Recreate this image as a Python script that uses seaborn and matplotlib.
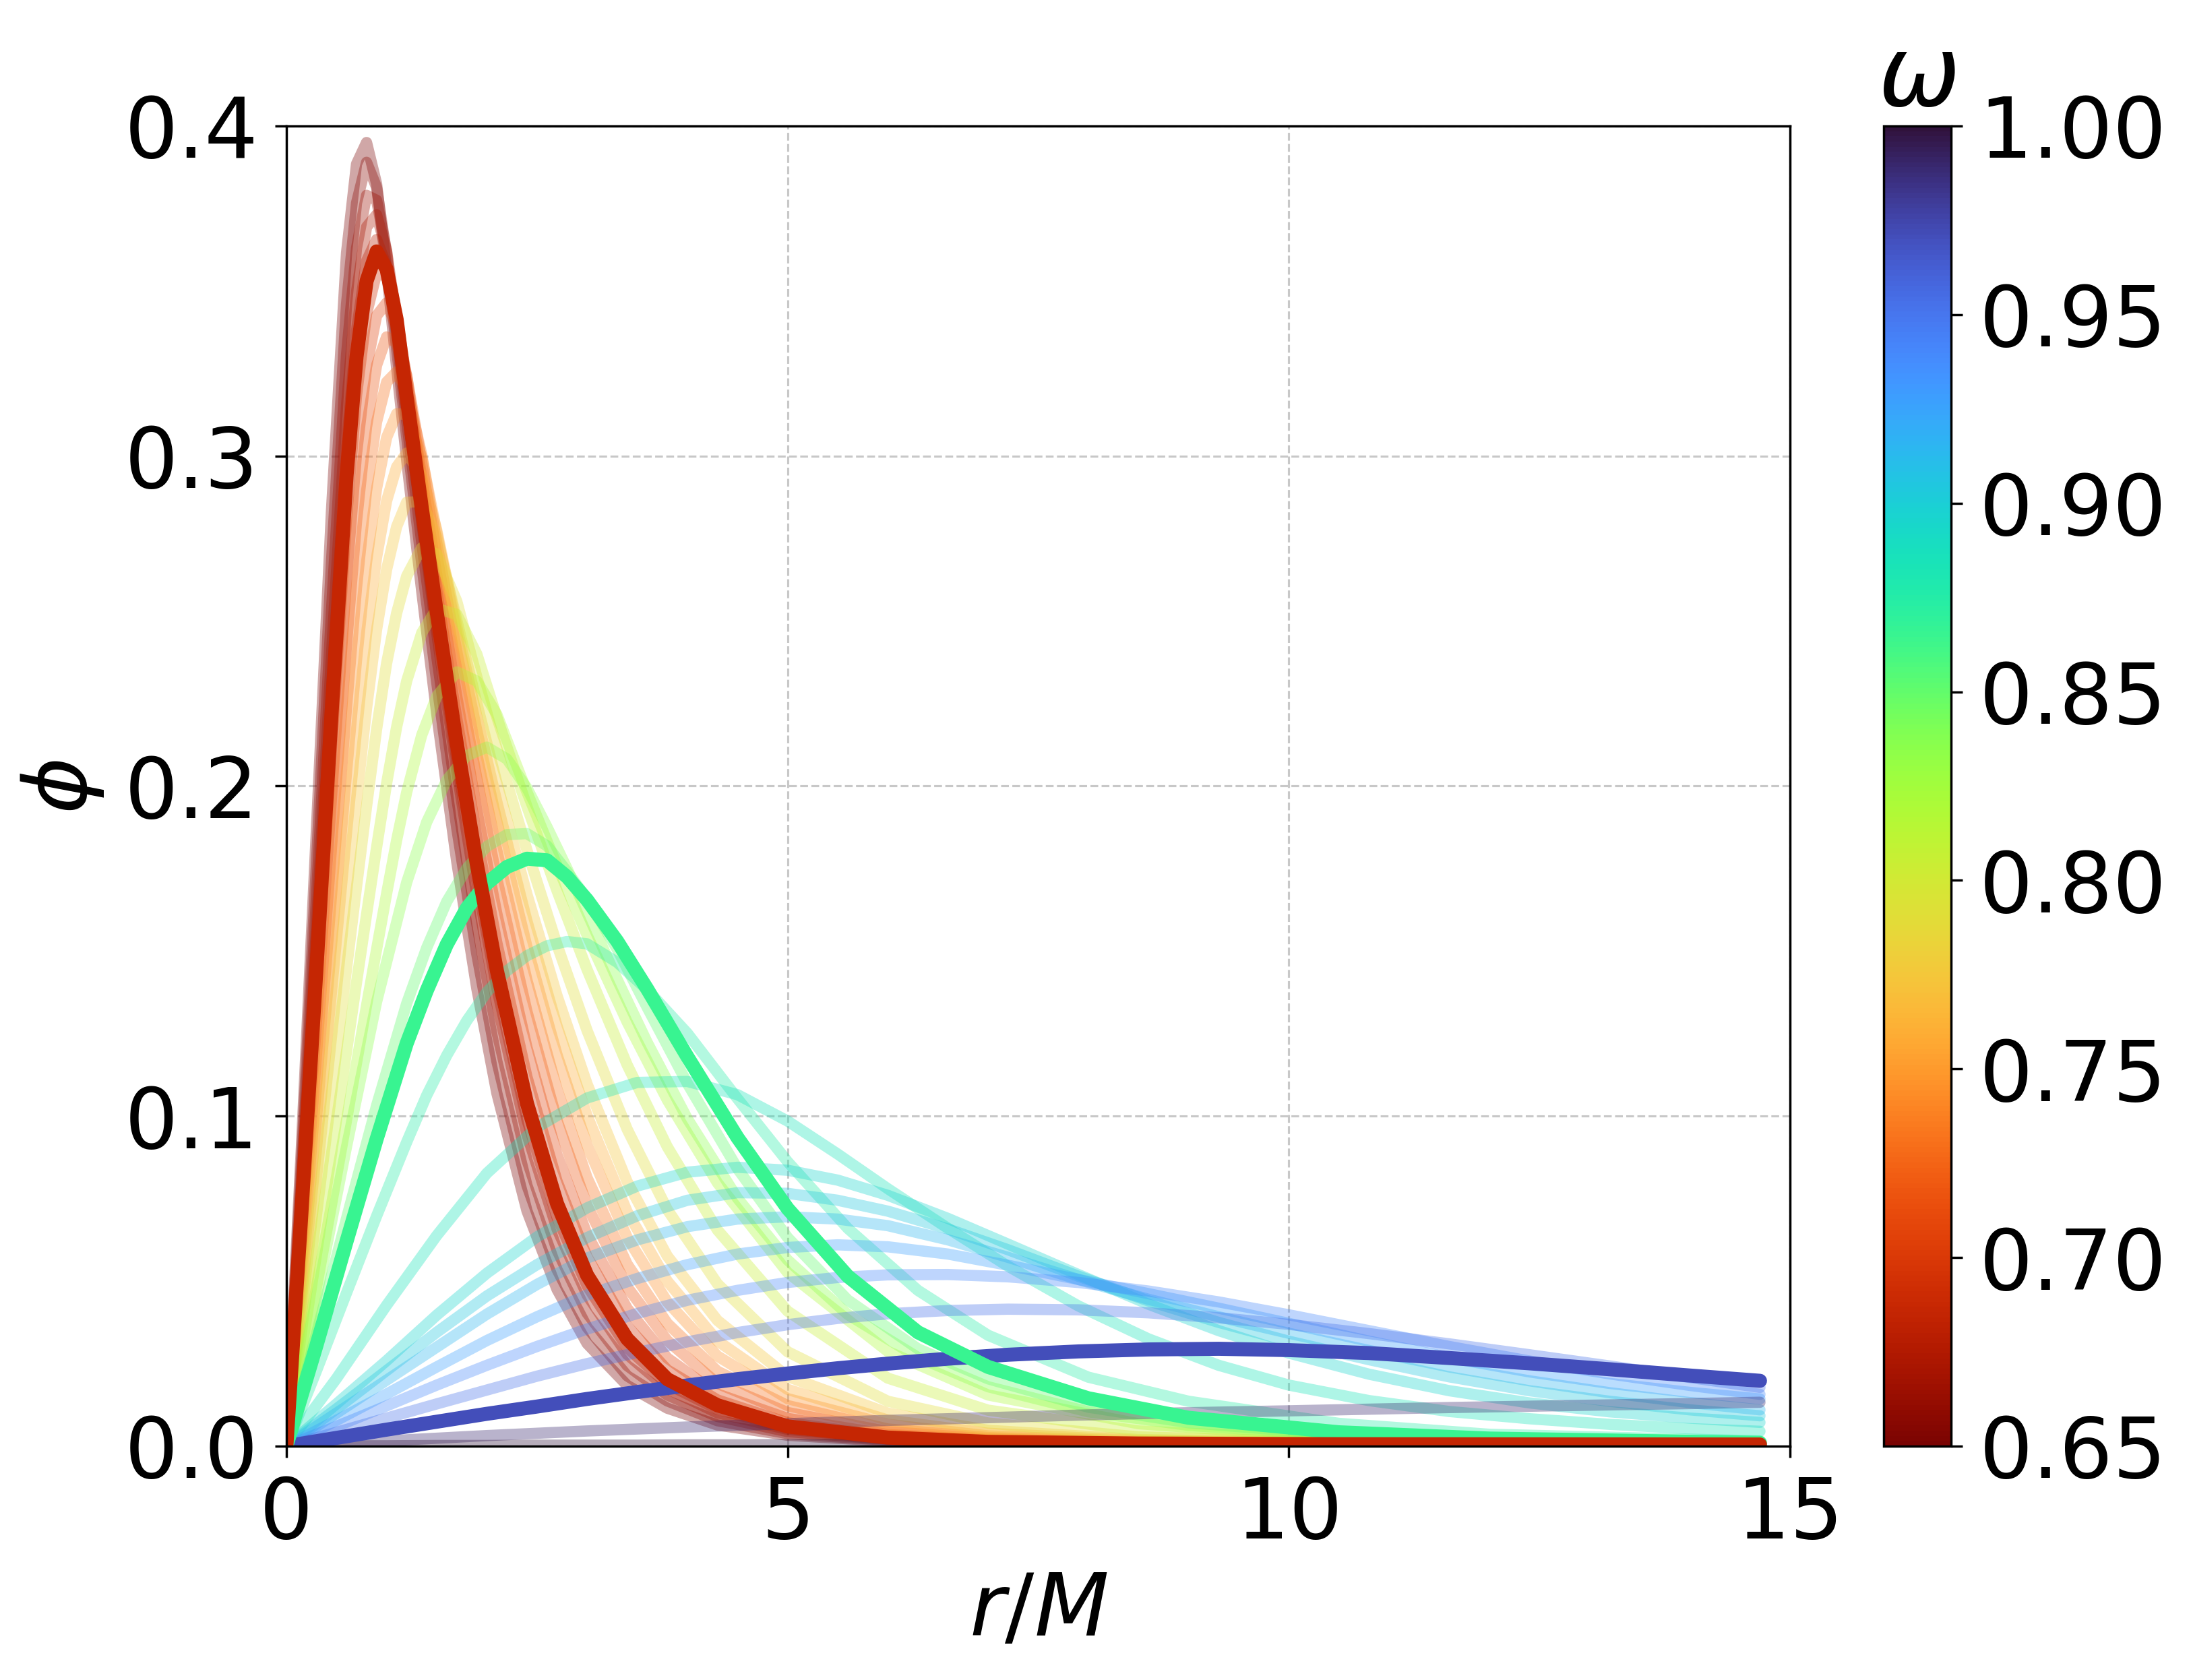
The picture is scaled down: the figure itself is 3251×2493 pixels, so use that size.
import numpy as np
import pandas as pd
import seaborn as sns
import matplotlib.pyplot as plt
from matplotlib import cm, colors

# radial grids (r/M) for the three groups of profiles
r_a = [0, 0.15, 0.3, 0.45, 0.6, 0.7, 0.8, 0.9, 1.0, 1.1, 1.2, 1.35, 1.5, 1.7, 1.9, 2.1, 2.4, 2.7, 3.0, 3.4,
       3.8, 4.3, 5.0, 6.0, 7.0, 8.5, 10.5, 14.7]
r_b = [0, 0.3, 0.6, 0.9, 1.2, 1.4, 1.6, 1.8, 2.0, 2.2, 2.4, 2.6, 2.8, 3.0, 3.3, 3.6, 4.0, 4.5, 5.0, 5.6,
       6.3, 7.0, 8.0, 9.0, 10.5, 12.0, 14.7]
r_c = [0, 0.5, 1.0, 1.5, 2.0, 2.5, 3.0, 3.5, 4.0, 4.5, 5.0, 5.5, 6.0, 6.6, 7.2, 7.9, 8.6, 9.3, 10.0, 10.8,
       11.6, 12.4, 13.2, 14.0, 14.7]

# low-frequency branch (dark red -> yellow)
omega_a = [0.650, 0.658, 0.665, 0.672, 0.679, 0.693, 0.705, 0.718, 0.731, 0.745, 0.760, 0.775, 0.790, 0.805, 0.820]
phi_a = [
    [0, 0.0907, 0.187, 0.2835, 0.3615, 0.3885, 0.395, 0.3825, 0.3564, 0.3267, 0.2988, 0.2591, 0.2219, 0.177, 0.1386, 0.1069, 0.0713, 0.0475, 0.0311, 0.0184, 0.0115, 0.0064, 0.0033, 0.0015, 0.001, 0.0007, 0.0006, 0.0005],
    [0, 0.0858, 0.1763, 0.2678, 0.346, 0.3767, 0.389, 0.3814, 0.361, 0.3325, 0.3058, 0.2674, 0.2314, 0.1872, 0.149, 0.1166, 0.079, 0.0535, 0.036, 0.0213, 0.0137, 0.0077, 0.0038, 0.0018, 0.001, 0.0007, 0.0006, 0.0005],
    [0, 0.0808, 0.1661, 0.2529, 0.3306, 0.363, 0.379, 0.3775, 0.3621, 0.3365, 0.3107, 0.2739, 0.2393, 0.1962, 0.1582, 0.1255, 0.0867, 0.0594, 0.0403, 0.0244, 0.0155, 0.009, 0.0044, 0.0021, 0.0011, 0.0008, 0.0006, 0.0005],
    [0, 0.0764, 0.157, 0.2396, 0.3152, 0.3498, 0.3694, 0.3731, 0.3621, 0.3412, 0.3154, 0.28, 0.2464, 0.2045, 0.167, 0.1342, 0.0945, 0.0658, 0.0458, 0.0278, 0.0174, 0.0101, 0.0051, 0.0023, 0.0012, 0.0008, 0.0006, 0.0005],
    [0, 0.0731, 0.15, 0.2291, 0.3026, 0.338, 0.3591, 0.3656, 0.3575, 0.3396, 0.3152, 0.2809, 0.2485, 0.2079, 0.171, 0.1387, 0.0989, 0.0694, 0.0486, 0.0298, 0.0188, 0.0112, 0.0055, 0.0025, 0.0013, 0.0008, 0.0006, 0.0005],
    [0, 0.0673, 0.138, 0.2112, 0.2811, 0.3183, 0.3431, 0.3554, 0.3544, 0.3427, 0.3232, 0.29, 0.2592, 0.2205, 0.1846, 0.1525, 0.1119, 0.0803, 0.0573, 0.0363, 0.0231, 0.014, 0.0071, 0.003, 0.0016, 0.0009, 0.0006, 0.0005],
    [0, 0.0627, 0.1284, 0.1966, 0.2628, 0.3007, 0.327, 0.3425, 0.3464, 0.3392, 0.3244, 0.2934, 0.2641, 0.2272, 0.1927, 0.1613, 0.1208, 0.0883, 0.0641, 0.0417, 0.0267, 0.0158, 0.0084, 0.0035, 0.0019, 0.0009, 0.0007, 0.0005],
    [0, 0.0579, 0.1184, 0.1813, 0.2428, 0.2802, 0.3088, 0.3275, 0.3361, 0.3343, 0.3244, 0.298, 0.2702, 0.2352, 0.2024, 0.1719, 0.1317, 0.0987, 0.0729, 0.0482, 0.032, 0.019, 0.0102, 0.0044, 0.0022, 0.001, 0.0007, 0.0005],
    [0, 0.0533, 0.109, 0.1667, 0.2238, 0.2601, 0.2894, 0.3103, 0.3224, 0.3255, 0.32, 0.3005, 0.2737, 0.2408, 0.2097, 0.1804, 0.1412, 0.1081, 0.0813, 0.0551, 0.0372, 0.0227, 0.0123, 0.0052, 0.0026, 0.0011, 0.0007, 0.0005],
    [0, 0.0486, 0.0992, 0.1516, 0.2041, 0.2382, 0.2678, 0.2902, 0.3056, 0.3128, 0.3126, 0.2998, 0.2769, 0.2461, 0.2168, 0.1893, 0.1513, 0.1186, 0.0912, 0.0632, 0.0437, 0.0273, 0.0144, 0.0066, 0.0031, 0.0014, 0.0008, 0.0005],
    [0, 0.0442, 0.09, 0.1376, 0.1858, 0.2169, 0.2461, 0.2693, 0.2864, 0.2967, 0.3009, 0.2942, 0.2776, 0.2483, 0.2211, 0.1952, 0.1591, 0.1273, 0.1001, 0.071, 0.05, 0.0319, 0.0172, 0.0079, 0.0039, 0.0017, 0.0008, 0.0005],
    [0, 0.0399, 0.0811, 0.124, 0.1676, 0.1958, 0.2235, 0.2474, 0.2656, 0.2786, 0.286, 0.2862, 0.2755, 0.2503, 0.2251, 0.201, 0.1672, 0.1365, 0.1097, 0.0801, 0.0576, 0.0381, 0.0211, 0.01, 0.0048, 0.002, 0.0009, 0.0005],
    [0, 0.0344, 0.0699, 0.1067, 0.1446, 0.1695, 0.1938, 0.2172, 0.2372, 0.2524, 0.2636, 0.2722, 0.2703, 0.256, 0.2331, 0.2114, 0.1806, 0.1519, 0.1259, 0.096, 0.0717, 0.0492, 0.0286, 0.0136, 0.007, 0.0028, 0.0012, 0.0005],
    [0, 0.0286, 0.058, 0.0884, 0.1195, 0.1405, 0.1611, 0.1814, 0.2008, 0.2179, 0.2318, 0.2464, 0.2538, 0.252, 0.24, 0.2208, 0.1938, 0.1683, 0.1444, 0.1155, 0.0907, 0.0655, 0.0409, 0.0206, 0.0109, 0.0046, 0.0018, 0.0006],
    [0, 0.0237, 0.048, 0.0731, 0.0987, 0.1161, 0.1335, 0.1505, 0.1674, 0.1836, 0.1981, 0.2154, 0.2272, 0.2346, 0.2318, 0.2217, 0.1982, 0.1759, 0.1548, 0.1285, 0.1049, 0.0798, 0.0526, 0.0287, 0.0155, 0.0068, 0.0025, 0.0007],
]

# middle branch (light green -> mint)
omega_b = [0.835, 0.850, 0.875]
phi_b = [
    [0, 0.045, 0.0907, 0.1346, 0.1708, 0.1891, 0.2018, 0.2092, 0.2118, 0.2082, 0.1994, 0.1876, 0.175, 0.1616, 0.1414, 0.1223, 0.0992, 0.0751, 0.0564, 0.0399, 0.0269, 0.018, 0.0104, 0.0063, 0.0032, 0.0017, 0.0007],
    [0, 0.034, 0.069, 0.1032, 0.1341, 0.151, 0.165, 0.1751, 0.1817, 0.1853, 0.1856, 0.1819, 0.1741, 0.1659, 0.1506, 0.1329, 0.1099, 0.0841, 0.0632, 0.0443, 0.0295, 0.0204, 0.0118, 0.0071, 0.0035, 0.002, 0.0008],
    [0, 0.0228, 0.0464, 0.0697, 0.0921, 0.1063, 0.1184, 0.1289, 0.1376, 0.144, 0.1486, 0.1516, 0.1529, 0.1522, 0.1466, 0.1383, 0.1251, 0.1053, 0.0862, 0.066, 0.0472, 0.0336, 0.0209, 0.0136, 0.0069, 0.0036, 0.0016],
]

# high-frequency branch (aquamarine -> dark purple)
omega_c = [0.884, 0.895, 0.905, 0.915, 0.927, 0.940, 0.953, 0.990, 1.000]
phi_c = [
    [0, 0.0205, 0.0427, 0.0638, 0.0827, 0.0966, 0.1055, 0.1102, 0.1105, 0.1065, 0.0985, 0.0885, 0.078, 0.066, 0.0545, 0.0425, 0.0325, 0.0245, 0.0185, 0.0138, 0.0105, 0.0083, 0.0066, 0.0053, 0.0045],
    [0, 0.0128, 0.0259, 0.0397, 0.0524, 0.0634, 0.0722, 0.0788, 0.083, 0.0845, 0.0836, 0.0806, 0.076, 0.069, 0.0612, 0.052, 0.043, 0.035, 0.0282, 0.0218, 0.0168, 0.0131, 0.0104, 0.0085, 0.0072],
    [0, 0.0113, 0.0229, 0.0345, 0.0455, 0.055, 0.0632, 0.0698, 0.0745, 0.0768, 0.0766, 0.0745, 0.0712, 0.0658, 0.0595, 0.0515, 0.044, 0.0375, 0.0318, 0.0262, 0.021, 0.0168, 0.0136, 0.011, 0.0092],
    [0, 0.010, 0.020, 0.030, 0.040, 0.049, 0.057, 0.0625, 0.0665, 0.0688, 0.0695, 0.0688, 0.0668, 0.0625, 0.0572, 0.0505, 0.0445, 0.0392, 0.0342, 0.029, 0.024, 0.0198, 0.0162, 0.0132, 0.011],
    [0, 0.0078, 0.0158, 0.024, 0.032, 0.0392, 0.0458, 0.0508, 0.055, 0.0582, 0.0602, 0.061, 0.0604, 0.0582, 0.0548, 0.0505, 0.0462, 0.0418, 0.0372, 0.0318, 0.0268, 0.0225, 0.019, 0.0163, 0.0143],
    [0, 0.006, 0.0122, 0.0185, 0.0245, 0.0302, 0.0355, 0.0402, 0.0442, 0.0472, 0.0496, 0.0511, 0.0519, 0.052, 0.0513, 0.0496, 0.047, 0.0437, 0.0398, 0.035, 0.0302, 0.0258, 0.0219, 0.0184, 0.0157],
    [0, 0.0042, 0.0085, 0.0128, 0.017, 0.0212, 0.025, 0.0284, 0.0316, 0.0344, 0.0368, 0.0387, 0.0401, 0.0411, 0.0415, 0.0413, 0.0404, 0.0389, 0.0369, 0.0341, 0.031, 0.0277, 0.0243, 0.0208, 0.0178],
    [0, 0.0008, 0.0016, 0.0024, 0.0032, 0.0039, 0.0046, 0.0052, 0.0058, 0.0063, 0.0068, 0.0073, 0.0078, 0.0083, 0.0088, 0.0094, 0.0099, 0.0103, 0.0107, 0.0112, 0.0117, 0.0121, 0.0125, 0.0129, 0.0133],
    [0, 0.0001, 0.0001, 0.0002, 0.0002, 0.0003, 0.0003, 0.0003, 0.0004, 0.0004, 0.0005, 0.0005, 0.0005, 0.0006, 0.0006, 0.0006, 0.0007, 0.0007, 0.0007, 0.0008, 0.0008, 0.0008, 0.0009, 0.0009, 0.0009],
]

# the three highlighted solutions (red on r_a, green on r_b, blue on r_c)
omega_red, omega_green, omega_blue = 0.686, 0.865, 0.970
phi_red = [0, 0.0706, 0.1448, 0.2215, 0.2939, 0.3301, 0.353, 0.362, 0.3566, 0.3414, 0.3178, 0.2845, 0.2527, 0.2129, 0.1763, 0.1441, 0.1039, 0.0735, 0.0518, 0.0325, 0.0203, 0.0124, 0.006, 0.0026, 0.0013, 0.0008, 0.0006, 0.0005]
phi_green = [0, 0.0305, 0.062, 0.093, 0.122, 0.138, 0.152, 0.163, 0.1705, 0.1755, 0.178, 0.1775, 0.1725, 0.1655, 0.153, 0.1385, 0.118, 0.0935, 0.072, 0.0515, 0.0345, 0.024, 0.0145, 0.0086, 0.0042, 0.0023, 0.001]
phi_blue = [0, 0.0025, 0.005, 0.0074, 0.0098, 0.012, 0.0143, 0.0164, 0.0184, 0.0203, 0.022, 0.0236, 0.025, 0.0265, 0.0277, 0.0287, 0.0293, 0.0295, 0.0291, 0.0282, 0.0267, 0.0251, 0.0233, 0.0214, 0.0198]


def to_long(r, omegas, curves):
    rows = []
    for w, phi in zip(omegas, curves):
        for x, y in zip(r, phi):
            rows.append((w, x, y))
    return pd.DataFrame(rows, columns=["omega", "r", "phi"])


sns.set_style("ticks")
plt.rcParams["font.family"] = ["DejaVu Sans"]
plt.rcParams["mathtext.fontset"] = "dejavusans"
for key in ["text.color", "axes.labelcolor", "xtick.color", "ytick.color", "axes.edgecolor"]:
    plt.rcParams[key] = "black"

fig = plt.figure(figsize=(13.004, 9.972), dpi=250)
ax = fig.add_axes([0.1307, 0.1392, 0.6863, 0.7858])
cax = fig.add_axes([0.8597, 0.1392, 0.0308, 0.7858])

cmap = plt.get_cmap("turbo_r")
norm = colors.Normalize(vmin=0.65, vmax=1.0)

background = pd.concat([
    to_long(r_a, omega_a, phi_a),
    to_long(r_b, omega_b, phi_b),
    to_long(r_c, omega_c, phi_c),
], ignore_index=True)

sns.lineplot(data=background, x="r", y="phi", hue="omega", units="omega",
             estimator=None, palette=cmap, hue_norm=norm, lw=4.8, alpha=0.35,
             legend=False, ax=ax)

for r, phi, w in [(r_c, phi_blue, omega_blue), (r_b, phi_green, omega_green), (r_a, phi_red, omega_red)]:
    sns.lineplot(x=r, y=phi, color=cmap(norm(w)), lw=6.0, ax=ax)

ax.set_xlim(0, 15)
ax.set_ylim(0, 0.4)
ax.set_xticks([0, 5, 10, 15])
ax.set_yticks([0.0, 0.1, 0.2, 0.3, 0.4])
ax.yaxis.set_major_formatter(plt.FormatStrFormatter("%.1f"))
ax.grid(True, ls="--", lw=0.9, color="#c8c8c8")
ax.tick_params(labelsize=36, length=5, width=1.0, pad=7)
for sp in ax.spines.values():
    sp.set_linewidth(1.0)
ax.set_xlabel(r"$r/M$", fontsize=37, labelpad=6)
ax.set_ylabel(r"$\phi$", fontsize=37, labelpad=8)

sm = cm.ScalarMappable(norm=norm, cmap=cmap)
cbar = fig.colorbar(sm, cax=cax)
cbar.set_ticks([0.65, 0.70, 0.75, 0.80, 0.85, 0.90, 0.95, 1.00])
cbar.ax.yaxis.set_major_formatter(plt.FormatStrFormatter("%.2f"))
cbar.ax.tick_params(labelsize=36, length=5, width=1.0, pad=7)
cbar.outline.set_linewidth(1.0)
cbar.outline.set_edgecolor("black")
cbar.ax.set_title(r"$\omega$", fontsize=42, pad=4)

fig.savefig("out.png", dpi=250)
